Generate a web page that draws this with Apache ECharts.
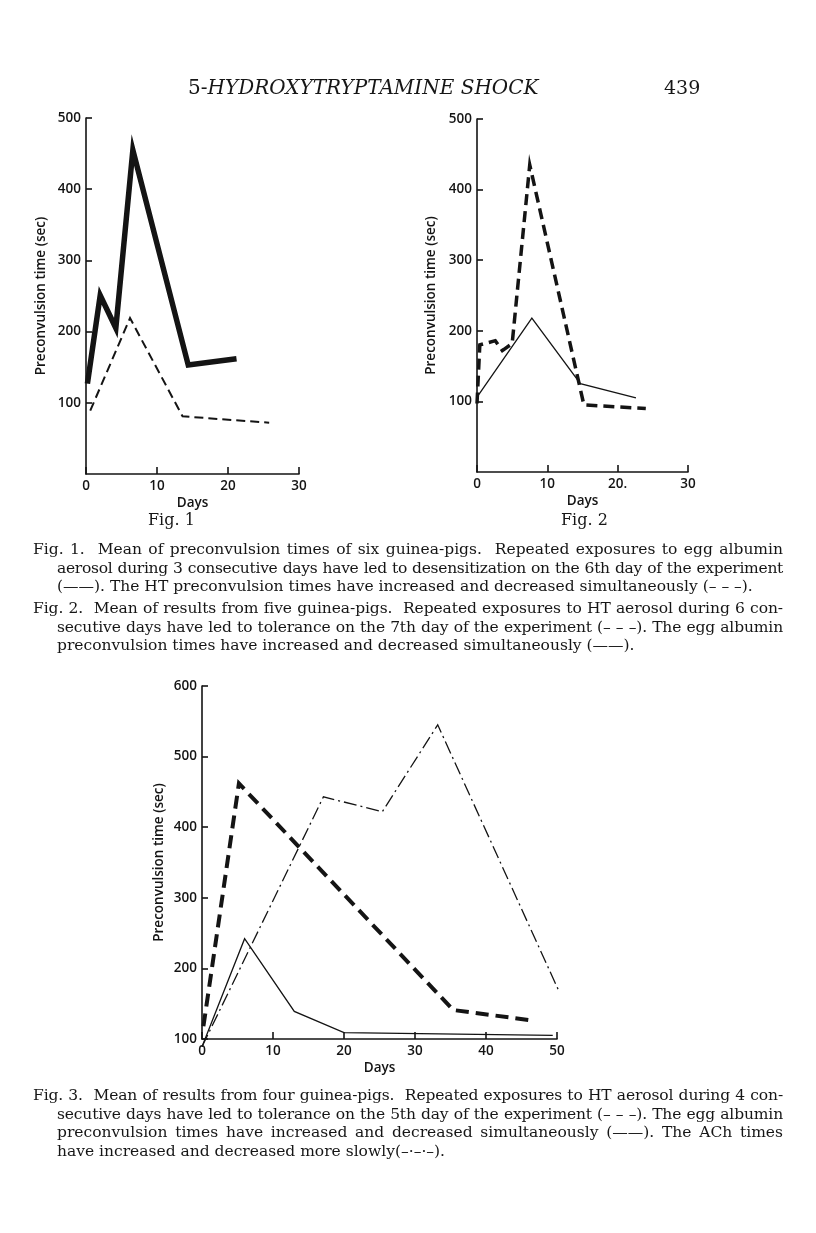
<!DOCTYPE html>
<html>
<head>
<meta charset="utf-8">
<script src="https://cdn.jsdelivr.net/npm/echarts@6/dist/echarts.min.js"></script>
<style>
  body { margin: 0; background: #fff; }
  #page { position: relative; width: 816px; height: 1233px; overflow: hidden; background: #fff; }
  #chart { position: absolute; left: 0; top: 0; width: 816px; height: 1233px; }
  .txt { position: absolute; font-family: "DejaVu Serif", serif; color: #161616; white-space: nowrap; }
  .head { font-size: 20px; top: 75px; }
  .figlab { font-size: 16px; top: 510px; }
  .cap { position: absolute; left: 33px; width: 750px; font-family: "DejaVu Serif", serif; font-size: 15.5px; line-height: 18.7px; color: #161616; }
  .ln { white-space: nowrap; text-align: justify; text-align-last: justify; padding-left: 24px; }
  .ln.first { padding-left: 0; }
  .ln.last { text-align-last: left; }
</style>
</head>
<body>
<div id="page">
  <div id="chart"></div>

  <div class="txt head" style="left:188px;">5-<i>HYDROXYTRYPTAMINE SHOCK</i></div>
  <div class="txt head" style="left:664px;font-size:19px;top:76px;">439</div>

  <div class="txt figlab" style="left:148px;">Fig. 1</div>
  <div class="txt figlab" style="left:561px;">Fig. 2</div>

  <div class="cap" style="top:540px;">
    <div class="ln first">Fig. 1.&nbsp; Mean of preconvulsion times of six guinea-pigs.&nbsp; Repeated exposures to egg albumin</div>
    <div class="ln">aerosol during 3 consecutive days have led to desensitization on the 6th day of the experiment</div>
    <div class="ln last">(——). The HT preconvulsion times have increased and decreased simultaneously (– – –).</div>
  </div>
  <div class="cap" style="top:599px;">
    <div class="ln first">Fig. 2.&nbsp; Mean of results from five guinea-pigs.&nbsp; Repeated exposures to HT aerosol during 6 con-</div>
    <div class="ln">secutive days have led to tolerance on the 7th day of the experiment (– – –). The egg albumin</div>
    <div class="ln last">preconvulsion times have increased and decreased simultaneously (——).</div>
  </div>
  <div class="cap" style="top:1086px;">
    <div class="ln first">Fig. 3.&nbsp; Mean of results from four guinea-pigs.&nbsp; Repeated exposures to HT aerosol during 4 con-</div>
    <div class="ln">secutive days have led to tolerance on the 5th day of the experiment (– – –). The egg albumin</div>
    <div class="ln">preconvulsion times have increased and decreased simultaneously (——). The ACh times</div>
    <div class="ln last">have increased and decreased more slowly(–·–·–).</div>
  </div>
</div>

<script>
// Fig. 1 : egg albumin (thick solid) and HT (dashed)
const fig1AlbuminDays = [0.2, 2.0, 4.2, 6.6, 14.4, 21.2];
const fig1AlbuminTimes = [127, 251, 205, 455, 153, 162];
const fig1HTDays = [0.6, 6.2, 13.6, 25.8];
const fig1HTTimes = [89, 219, 81, 72];

// Fig. 2 : HT (thick dashed) and egg albumin (thin solid)
const fig2HTDays = [0, 0.4, 2.6, 3.6, 5.0, 7.5, 15.2, 24.0];
const fig2HTTimes = [97, 180, 186, 172, 182, 435, 95, 90];
const fig2AlbuminDays = [0, 7.8, 14.7, 22.6];
const fig2AlbuminTimes = [106, 218, 125, 105];

// Fig. 3 : HT (thick dashed), egg albumin (thin solid), ACh (dash-dot)
const fig3HTDays = [0.2, 5.2, 35.4, 46.7];
const fig3HTTimes = [118, 462, 141, 126];
const fig3AlbuminDays = [0, 6.0, 13.0, 20.0, 49.4];
const fig3AlbuminTimes = [89, 242, 139, 109, 105];
const fig3AChDays = [0, 17.1, 25.4, 33.2, 50.4];
const fig3AChTimes = [89, 443, 422, 545, 165];

// tick labels
const xLabels1 = ["0", "10", "20", "30"];
const xLabels2 = ["0", "10", "20.", "30"];
const xLabels3 = ["0", "10", "20", "30", "40", "50"];

// squeeze caption lines that are too long to fit, the rest get justified
const ctx = document.createElement("canvas").getContext("2d");
ctx.font = '15.5px "DejaVu Serif"';
document.querySelectorAll(".ln").forEach((el) => {
  if (el.classList.contains("last")) return;
  const text = el.textContent;
  const avail = 750 - (el.classList.contains("first") ? 0 : 24) - 8;
  const w = ctx.measureText(text).width;
  if (w > avail) el.style.letterSpacing = ((avail - w) / text.length).toFixed(3) + "px";
});

const pairs = (xs, ys) => xs.map((x, i) => [x, ys[i]]);
const ink = "#141414";
const axisFont = { color: ink, fontFamily: "Open Sans", fontSize: 13.5, fontWeight: 600 };

function xAxisFor(gridIndex, max, labels) {
  return {
    gridIndex: gridIndex,
    type: "value",
    min: 0,
    max: max,
    interval: 10,
    name: "Days",
    nameLocation: "middle",
    nameGap: 22,
    nameTextStyle: axisFont,
    axisLine: { lineStyle: { color: ink, width: 1.6 } },
    axisTick: { inside: true, length: 7, lineStyle: { color: ink, width: 1.6 } },
    axisLabel: Object.assign({}, axisFont, {
      margin: 5,
      formatter: (v) => labels[Math.round(v / 10)],
    }),
    splitLine: { show: false },
  };
}

function yAxisFor(gridIndex, min, max, showMin, gap) {
  return {
    gridIndex: gridIndex,
    type: "value",
    min: min,
    max: max,
    interval: 100,
    name: "Preconvulsion time (sec)",
    nameLocation: "middle",
    nameGap: gap,
    nameTextStyle: axisFont,
    axisLine: { lineStyle: { color: ink, width: 1.6 } },
    // ticks point into the plot, as on the page
    axisTick: { inside: true, length: 6, lineStyle: { color: ink, width: 1.6 } },
    axisLabel: Object.assign({}, axisFont, { margin: 5, showMinLabel: showMin }),
    splitLine: { show: false },
  };
}

function line(xi, yi, xs, ys, width, type) {
  return {
    type: "line",
    xAxisIndex: xi,
    yAxisIndex: yi,
    data: pairs(xs, ys),
    symbol: "none",
    clip: false,
    lineStyle: { color: ink, width: width, type: type, cap: "butt", join: "miter" },
    silent: true,
  };
}

const charts = echarts.init(document.getElementById("chart"));
charts.setOption({
  animation: false,
  backgroundColor: "#fff",
  grid: [
    { left: 86, top: 118, width: 213, height: 356 },
    { left: 477, top: 119, width: 211, height: 353 },
    { left: 202, top: 686, width: 355, height: 353 },
  ],
  xAxis: [xAxisFor(0, 30, xLabels1), xAxisFor(1, 30, xLabels2), xAxisFor(2, 50, xLabels3)],
  yAxis: [yAxisFor(0, 0, 500, false, 38), yAxisFor(1, 0, 500, false, 39), yAxisFor(2, 100, 600, true, 36)],
  series: [
    line(0, 0, fig1AlbuminDays, fig1AlbuminTimes, 5.5, "solid"),
    line(0, 0, fig1HTDays, fig1HTTimes, 2, [9, 5]),
    line(1, 1, fig2HTDays, fig2HTTimes, 3.5, [11, 6]),
    line(1, 1, fig2AlbuminDays, fig2AlbuminTimes, 1.3, "solid"),
    line(2, 2, fig3HTDays, fig3HTTimes, 4, [13, 7]),
    line(2, 2, fig3AlbuminDays, fig3AlbuminTimes, 1.3, "solid"),
    line(2, 2, fig3AChDays, fig3AChTimes, 1.3, [13, 4, 2, 4]),
  ],
});
</script>
</body>
</html>
